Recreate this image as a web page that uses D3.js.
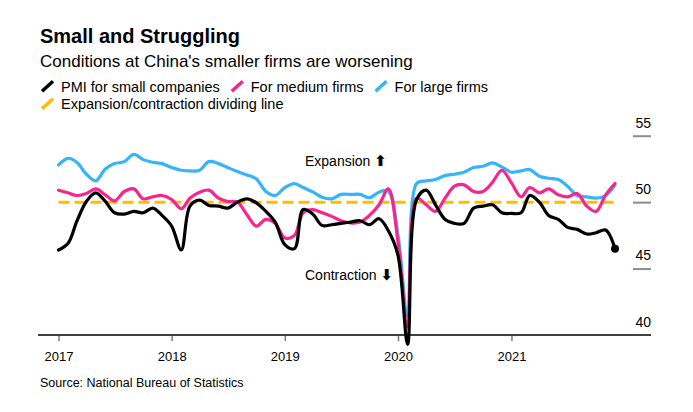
<!DOCTYPE html>
<html>
<head>
<meta charset="utf-8">
<script src="https://cdn.jsdelivr.net/npm/d3@7"></script>
<style>
  html, body { margin: 0; padding: 0; background: #fff; }
  svg { display: block; font-family: "Liberation Sans", Arial, sans-serif; }
</style>
</head>
<body>
<svg id="chart" width="693" height="412"></svg>
<script>
// ---- Data (monthly, Jan 2017 – Dec 2021) ----
const startMonth = new Date(2017, 0, 1);
const endMonth = new Date(2021, 11, 1);

const smallPMI = [
  46.4, 46.9, 48.55, 50.05, 50.7, 50.05, 49.2, 49.1, 49.3, 49.2, 49.55, 49.0,
  48.2, 46.4, 49.7, 50.15, 49.75, 49.7, 49.55, 50.0, 50.25, 49.95, 49.3, 48.5,
  46.8, 46.5, 49.45, 49.1, 48.25, 48.3, 48.4, 48.5, 48.6, 48.3, 48.75, 47.85,
  46.0, 39.3, 50.2, 50.9, 49.8, 48.7, 48.4, 48.4, 49.55, 49.7, 49.8, 49.2,
  49.15, 49.2, 50.5, 50.0, 49.0, 48.7, 48.1, 47.95, 47.6, 47.7, 47.9, 46.5
];
const mediumPMI = [
  50.9, 50.7, 50.5, 50.65, 51.0, 50.55, 50.1, 50.8, 51.0, 50.25, 50.4, 50.5,
  50.2, 49.5, 50.3, 50.75, 50.9, 50.3, 50.05, 50.0, 49.05, 48.2, 48.7, 48.4,
  47.3, 47.5, 49.2, 49.43, 49.2, 48.93, 48.6, 48.43, 48.5, 49.0, 49.8, 51.0,
  47.0, 40.6, 50.3, 49.8, 49.3, 50.3, 51.2, 51.3, 50.8, 50.8, 51.5, 52.4,
  51.45, 50.4, 51.1, 50.7, 51.0, 50.55, 50.4, 50.65, 49.7, 49.3, 50.55, 51.4
];
const largePMI = [
  52.8, 53.3, 53.0, 52.1, 51.6, 52.5, 52.9, 53.05, 53.6, 53.2, 53.0, 52.9,
  52.6, 52.4, 52.35, 52.4, 53.05, 52.9, 52.6, 52.3, 52.05, 51.75, 50.8, 50.5,
  51.1, 51.4, 51.1, 50.77, 50.37, 50.25, 50.58, 50.58, 50.58, 50.33, 50.75, 50.83,
  47.5, 41.4, 51.4, 51.6, 51.7, 52.0, 52.1, 52.25, 52.6, 52.7, 52.95, 52.65,
  52.25, 52.35, 52.45, 51.95, 51.8, 51.7, 51.2, 50.5, 50.4, 50.3, 50.5, 51.3
];
const dividingLine = 50;
const yTicks = [40, 45, 50, 55];
const xTickYears = [2017, 2018, 2019, 2020, 2021];

const seriesNames = ["PMI for small companies", "For medium firms", "For large firms"];
const seriesColors = ["#000000", "#f7268f", "#35b4fa"];
const dividerName = "Expansion/contraction dividing line";
const dividerColor = "#fdbd00";

const titleText = "Small and Struggling";
const subtitleText = "Conditions at China's smaller firms are worsening";
const sourceText = "Source: National Bureau of Statistics";

// ---- Setup ----
const svg = d3.select("#chart");
const months = d3.timeMonths(startMonth, d3.timeMonth.offset(endMonth, 1));

const x = d3.scaleTime().domain([startMonth, endMonth]).range([58.5, 615]);
const y = d3.scaleLinear().domain([40, 55]).range([335, 135.7]);

// Title & subtitle
svg.append("text").attr("x", 40).attr("y", 42.5)
  .attr("font-size", 20).attr("font-weight", "bold").attr("fill", "#000")
  .text(titleText);
svg.append("text").attr("x", 40).attr("y", 67.3)
  .attr("font-size", 17).attr("fill", "#000")
  .text(subtitleText);

// Legend
const legendItems = [
  { name: seriesNames[0], color: seriesColors[0], row: 0 },
  { name: seriesNames[1], color: seriesColors[1], row: 0 },
  { name: seriesNames[2], color: seriesColors[2], row: 0 },
  { name: dividerName, color: dividerColor, row: 1 }
];
const rowBase = [91.7, 109.3];
let cursor = [42, 42];
legendItems.forEach(it => {
  const g = svg.append("g");
  const bx = cursor[it.row], by = rowBase[it.row];
  g.append("line")
    .attr("x1", bx).attr("y1", by - 0.5)
    .attr("x2", bx + 11).attr("y2", by - 10.5)
    .attr("stroke", it.color).attr("stroke-width", 3.5);
  const t = g.append("text").attr("x", bx + 19).attr("y", by)
    .attr("font-size", 14.5).attr("fill", "#000").text(it.name);
  const w = t.node().getComputedTextLength();
  cursor[it.row] = bx + 19 + w + 12;
});

// Y axis (right side labels + short gray tick bars)
const yAxis = d3.axisRight(y).tickValues(yTicks).tickSize(0).tickPadding(0)
  .tickFormat(d3.format("d"));
const yg = svg.append("g").attr("transform", "translate(651,0)").call(yAxis);
yg.select(".domain").remove();
yg.selectAll(".tick text")
  .attr("x", 0).attr("dy", null).attr("y", -8.7)
  .attr("text-anchor", "end")
  .attr("font-family", "'Liberation Sans', Arial, sans-serif")
  .attr("font-size", 14).attr("fill", "#000");
yg.selectAll(".tick").filter(d => d !== 40).append("line")
  .attr("x1", -18).attr("x2", 0).attr("y1", 0).attr("y2", 0)
  .attr("stroke", "#8c8c8c").attr("stroke-width", 2);

// X axis
const xAxis = d3.axisBottom(x)
  .tickValues(xTickYears.map(yr => new Date(yr, 0, 1)))
  .tickSize(6).tickPadding(0)
  .tickFormat(d3.timeFormat("%Y"));
const xg = svg.append("g").attr("transform", "translate(0,335)").call(xAxis);
xg.select(".domain").remove();
xg.selectAll(".tick line").attr("stroke", "#7a7a7a").attr("stroke-width", 1.5)
  .attr("y1", 1);
xg.selectAll(".tick text")
  .attr("y", 26).attr("dy", null)
  .attr("font-family", "'Liberation Sans', Arial, sans-serif")
  .attr("font-size", 13).attr("fill", "#000");
svg.append("line").attr("x1", 38).attr("x2", 651).attr("y1", 335).attr("y2", 335)
  .attr("stroke", "#000").attr("stroke-width", 1.3);

// Dividing line
svg.append("line")
  .attr("x1", x(startMonth)).attr("x2", x(endMonth) + 1.5)
  .attr("y1", y(dividingLine)).attr("y2", y(dividingLine))
  .attr("stroke", dividerColor).attr("stroke-width", 3)
  .attr("stroke-dasharray", "11,5");

// Annotations
const ann1 = svg.append("text").attr("x", 305).attr("y", 165.7)
  .attr("font-size", 14).attr("fill", "#000");
ann1.append("tspan").text("Expansion ");
ann1.append("tspan").attr("font-weight", "bold").attr("font-family", "'DejaVu Sans', sans-serif")
  .attr("font-size", 15).text("⬆");
const ann2 = svg.append("text").attr("x", 305).attr("y", 280)
  .attr("font-size", 14).attr("fill", "#000");
ann2.append("tspan").text("Contraction ");
ann2.append("tspan").attr("font-weight", "bold").attr("font-family", "'DejaVu Sans', sans-serif")
  .attr("font-size", 15).text("⬇");

// Lines
const line = d3.line()
  .x((d, i) => x(months[i]))
  .y(d => y(d))
  .curve(d3.curveCatmullRom.alpha(0.5));

const drawOrder = [
  { data: largePMI, color: seriesColors[2] },
  { data: mediumPMI, color: seriesColors[1] },
  { data: smallPMI, color: seriesColors[0] }
];
drawOrder.forEach(s => {
  svg.append("path").datum(s.data)
    .attr("d", line)
    .attr("fill", "none")
    .attr("stroke", s.color)
    .attr("stroke-width", 3.2)
    .attr("stroke-linejoin", "round")
    .attr("stroke-linecap", "round");
});

// End dot on small-company series
svg.append("circle")
  .attr("cx", x(months[smallPMI.length - 1]))
  .attr("cy", y(smallPMI[smallPMI.length - 1]))
  .attr("r", 4).attr("fill", seriesColors[0]);

// Source
svg.append("text").attr("x", 40).attr("y", 387)
  .attr("font-size", 12.5).attr("fill", "#000")
  .text(sourceText);
</script>
</body>
</html>
